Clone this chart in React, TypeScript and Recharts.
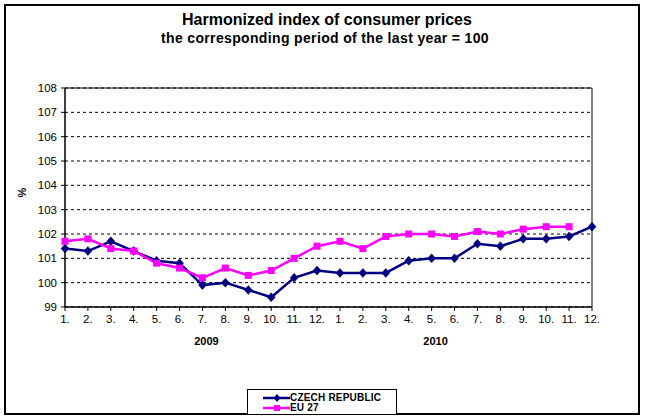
import React from 'react';
import { LineChart, Line, XAxis, YAxis, CartesianGrid, ReferenceArea } from 'recharts';

const monthLabels = ['1.', '2.', '3.', '4.', '5.', '6.', '7.', '8.', '9.', '10.', '11.', '12.',
  '1.', '2.', '3.', '4.', '5.', '6.', '7.', '8.', '9.', '10.', '11.', '12.'];
const czechRepublic = [101.4, 101.3, 101.7, 101.3, 100.9, 100.8, 99.9, 100.0, 99.7, 99.4, 100.2, 100.5,
  100.4, 100.4, 100.4, 100.9, 101.0, 101.0, 101.6, 101.5, 101.8, 101.8, 101.9, 102.3];
const eu27: (number | null)[] = [101.7, 101.8, 101.4, 101.3, 100.8, 100.6, 100.2, 100.6, 100.3, 100.5, 101.0, 101.5,
  101.7, 101.4, 101.9, 102.0, 102.0, 101.9, 102.1, 102.0, 102.2, 102.3, 102.3, null];
const yTicks = [99, 100, 101, 102, 103, 104, 105, 106, 107, 108];
const yearLabels: Record<number, string> = { 6: '2009', 16: '2010' };

const data = monthLabels.map((m, i) => ({ idx: i, month: m, cz: czechRepublic[i], eu: eu27[i] }));

const NAVY = '#000080';
const MAGENTA = '#FF00FF';
const FONT = '"Liberation Sans", Arial, sans-serif';

const Diamond = (props: any) => {
  const { cx, cy } = props;
  if (cx == null || cy == null) return <g />;
  return <polygon points={`${cx},${cy - 4.5} ${cx + 4},${cy} ${cx},${cy + 4.5} ${cx - 4},${cy}`} fill={NAVY} stroke={NAVY} strokeWidth={0.5} />;
};

const Square = (props: any) => {
  const { cx, cy } = props;
  if (cx == null || cy == null) return <g />;
  return <rect x={cx - 3.5} y={cy - 3.5} width={7} height={7} fill={MAGENTA} />;
};

export default function App() {
  return (
    <div style={{ position: 'absolute', left: 0, top: 0, width: 646, height: 420, background: '#fff', fontFamily: FONT }}>
      <div style={{ position: 'absolute', left: 4, top: 4, width: 636, height: 411, border: '2px solid #000', boxSizing: 'border-box' }} />
      <div style={{ position: 'absolute', left: 0, width: 646, top: 11, textAlign: 'center', fontWeight: 'bold', fontSize: 16, lineHeight: '18px', paddingLeft: 8, boxSizing: 'border-box' }}>
        Harmonized index of consumer prices
      </div>
      <div style={{ position: 'absolute', left: 0, width: 646, top: 30, textAlign: 'center', fontWeight: 'bold', fontSize: 14, lineHeight: '16px', letterSpacing: 0.35, paddingLeft: 4, boxSizing: 'border-box' }}>
        the corresponding period of the last year = 100
      </div>
      <div style={{ position: 'absolute', left: 0, top: 0 }}>
        <LineChart width={646} height={420} data={data} margin={{ top: 88, right: 54, left: 20, bottom: 67 }}>
          <CartesianGrid horizontal vertical={false} stroke="#000" strokeDasharray="3 3" />
          <ReferenceArea x1={0} x2={23} y1={99} y2={108} stroke="#000" strokeWidth={1} fill="none" ifOverflow="visible" />
          <XAxis
            dataKey="idx"
            type="category"
            height={26}
            interval={0}
            tickFormatter={(v: number) => monthLabels[v]}
            tick={{ fill: '#000', fontSize: 11.5, fontFamily: FONT }}
            tickSize={4}
            tickMargin={4}
            axisLine={{ stroke: '#000' }}
            tickLine={{ stroke: '#000' }}
          />
          <XAxis
            xAxisId="year"
            dataKey="idx"
            type="category"
            height={20}
            ticks={[6, 16]}
            interval={0}
            tickFormatter={(v: number) => yearLabels[v] || ''}
            tick={{ fill: '#000', fontSize: 11, fontWeight: 'bold', fontFamily: FONT, dx: 4 }}
            tickSize={0}
            tickMargin={4}
            axisLine={false}
            tickLine={false}
          />
          <YAxis
            domain={[99, 108]}
            ticks={yTicks}
            interval={0}
            width={45}
            tick={{ fill: '#000', fontSize: 11.5, fontFamily: FONT }}
            tickSize={4}
            tickMargin={4}
            axisLine={{ stroke: '#000' }}
            tickLine={{ stroke: '#000' }}
            label={{ value: '%', angle: -90, position: 'insideLeft', offset: 2, style: { fontWeight: 'bold', fontSize: 11, fill: '#000', fontFamily: FONT } }}
          />
          <Line dataKey="cz" stroke={NAVY} strokeWidth={2.5} dot={<Diamond />} activeDot={false} isAnimationActive={false} />
          <Line dataKey="eu" stroke={MAGENTA} strokeWidth={2.5} dot={<Square />} activeDot={false} isAnimationActive={false} />
        </LineChart>
      </div>
      <div style={{ position: 'absolute', left: 247, top: 389, width: 150, height: 26, border: '1px solid #000', boxSizing: 'border-box', background: '#fff', fontWeight: 'bold', fontSize: 10, lineHeight: '10px', paddingLeft: 15, paddingTop: 3 }}>
        <div style={{ display: 'flex', alignItems: 'center', height: 10 }}>
          <svg width={27} height={10}><line x1={0} y1={5} x2={27} y2={5} stroke={NAVY} strokeWidth={2.5} /><polygon points="14,1 17.5,5 14,9 10.5,5" fill={NAVY} /></svg>
          <span style={{ letterSpacing: 0.2 }}>CZECH REPUBLIC</span>
        </div>
        <div style={{ display: 'flex', alignItems: 'center', height: 10 }}>
          <svg width={27} height={10}><line x1={0} y1={5} x2={27} y2={5} stroke={MAGENTA} strokeWidth={2.5} /><rect x={11} y={2} width={6} height={6} fill={MAGENTA} /></svg>
          <span style={{ letterSpacing: 0.2 }}>EU 27</span>
        </div>
      </div>
    </div>
  );
}
